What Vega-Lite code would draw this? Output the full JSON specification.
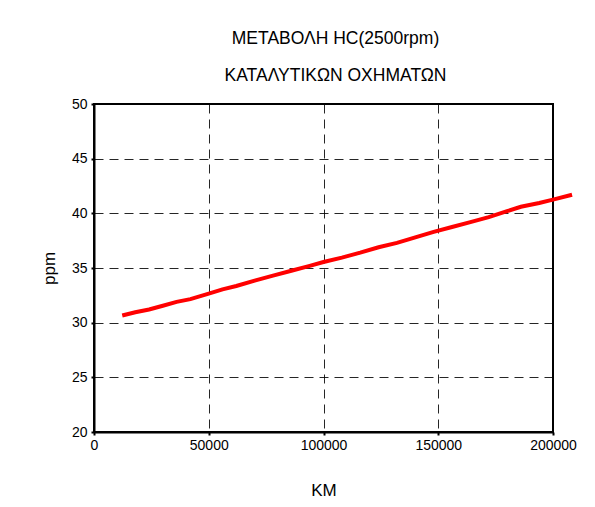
{
  "$schema": "https://vega.github.io/schema/vega-lite/v6.json",
  "autosize": {"type": "none"},
  "width": 459,
  "height": 328,
  "padding": {"left": 94, "top": 104, "right": 42, "bottom": 75},
  "background": "white",
  "config": {
    "font": "Liberation Sans",
    "view": {"stroke": "black", "strokeWidth": 2},
    "axis": {
      "labelFont": "Liberation Sans",
      "titleFont": "Liberation Sans",
      "labelColor": "black",
      "titleColor": "black",
      "labelFontSize": 14,
      "titleFontSize": 17,
      "titleFontWeight": "normal",
      "labelFlush": false,
      "domainColor": "black",
      "domainWidth": 2,
      "tickColor": "black",
      "tickSize": 3,
      "tickWidth": 2,
      "gridColor": "black",
      "gridDash": [9, 6],
      "gridWidth": 1,
      "gridOpacity": 0.85
    }
  },
  "title": {
    "text": ["ΜΕΤΑΒΟΛΗ HC(2500rpm)", "ΚΑΤΑΛΥΤΙΚΩΝ ΟΧΗΜΑΤΩΝ"],
    "font": "Liberation Sans",
    "fontSize": 17.5,
    "fontWeight": "normal",
    "color": "black",
    "lineHeight": 37,
    "offset": 13,
    "dx": 12,
    "anchor": "middle"
  },
  "data": {
    "values": [
      {"km": 12300, "ppm": 30.65},
      {"km": 18000, "ppm": 30.95},
      {"km": 24000, "ppm": 31.2},
      {"km": 30000, "ppm": 31.55},
      {"km": 36000, "ppm": 31.9},
      {"km": 42000, "ppm": 32.15},
      {"km": 50000, "ppm": 32.65},
      {"km": 56000, "ppm": 33.05},
      {"km": 62000, "ppm": 33.35},
      {"km": 70000, "ppm": 33.85},
      {"km": 78000, "ppm": 34.3},
      {"km": 86000, "ppm": 34.75},
      {"km": 94000, "ppm": 35.2},
      {"km": 100000, "ppm": 35.55},
      {"km": 108000, "ppm": 35.95},
      {"km": 116000, "ppm": 36.4},
      {"km": 124000, "ppm": 36.9},
      {"km": 132000, "ppm": 37.3},
      {"km": 140000, "ppm": 37.8},
      {"km": 148000, "ppm": 38.3},
      {"km": 156000, "ppm": 38.75},
      {"km": 164000, "ppm": 39.2},
      {"km": 172000, "ppm": 39.65},
      {"km": 180000, "ppm": 40.2},
      {"km": 186000, "ppm": 40.6},
      {"km": 194000, "ppm": 40.95},
      {"km": 200000, "ppm": 41.25},
      {"km": 208300, "ppm": 41.7}
    ]
  },
  "mark": {"type": "line", "color": "#ff0000", "strokeWidth": 4, "clip": false},
  "encoding": {
    "x": {
      "field": "km",
      "type": "quantitative",
      "title": "KM",
      "scale": {"domain": [0, 200000], "nice": false, "zero": false},
      "axis": {"values": [0, 50000, 100000, 150000, 200000], "format": "d", "titlePadding": 30, "labelPadding": 3}
    },
    "y": {
      "field": "ppm",
      "type": "quantitative",
      "title": "ppm",
      "scale": {"domain": [20, 50], "nice": false, "zero": false},
      "axis": {"values": [20, 25, 30, 35, 40, 45, 50], "titlePadding": 13, "labelPadding": 4}
    }
  }
}
